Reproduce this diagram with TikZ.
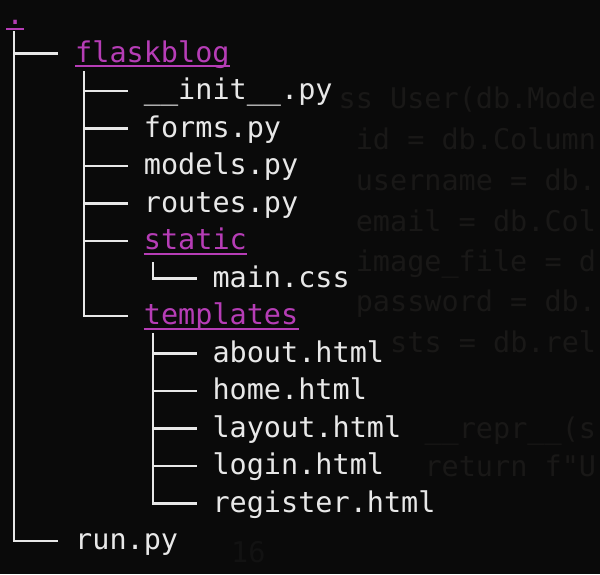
\documentclass[tikz,border=0pt]{standalone}
\usepackage{fontspec}
\newfontfamily\termfont{DejaVu Sans Mono}
\definecolor{bg}{HTML}{0A0A0A}
\definecolor{fg}{HTML}{E8E8E8}
\definecolor{dircol}{HTML}{B63DB6}
\definecolor{ghost}{HTML}{191817}
\definecolor{ghostdim}{HTML}{121212}
\tikzset{
  entry/.style={anchor=base west, inner sep=0pt, text height=20pt, text depth=3pt,
    font=\termfont\fontsize{28.5}{34}\selectfont, text=fg},
  dirent/.style={entry, text=dircol},
  ghosttext/.style={anchor=base west, inner sep=0pt,
    font=\termfont\fontsize{28.5}{34}\selectfont, text=ghost},
  branch/.style={draw=fg, line width=2.6pt},
  uline/.style={draw=dircol, line width=2pt}
}
\begin{document}
\begin{tikzpicture}[x=1pt,y=-1pt]
\fill[bg] (0,0) rectangle (600,574);
\useasboundingbox (0,0) rectangle (600,574);
\clip (0,0) rectangle (600,574);

% faint background code
\node[ghosttext] (g1) at (338.5,108) {ss User(db.Mode};
\node[ghosttext] (g2) at (355.6,149) {id = db.Column};
\node[ghosttext] (g3) at (355.6,190) {username = db.};
\node[ghosttext] (g4) at (355.6,231) {email = db.Col};
\node[ghosttext] (g5) at (355.6,271) {image\_file = d};
\node[ghosttext] (g6) at (355.6,311) {password = db.};
\node[ghosttext] (g7) at (390,352) {sts = db.rel};
\node[ghosttext] (g8) at (424.3,438) {\_\_repr\_\_(s};
\node[ghosttext] (g9) at (424.3,476) {return f"U};
\node[ghosttext, text=ghostdim] (g10) at (231,562) {16};

% tree entries
\node[dirent] (dot) at (6.4,24.5) {.};
\node[dirent] (flask) at (75,62) {flaskblog};
\node[entry] (init) at (143.7,99.5) {\_\_init\_\_.py};
\node[entry] (forms) at (143.7,137) {forms.py};
\node[entry] (models) at (143.7,174.5) {models.py};
\node[entry] (routes) at (143.7,212) {routes.py};
\node[dirent] (static) at (143.7,249.5) {static};
\node[entry] (maincss) at (212.3,287) {main.css};
\node[dirent] (templates) at (143.7,324.5) {templates};
\node[entry] (about) at (212.3,362) {about.html};
\node[entry] (home) at (212.3,399.5) {home.html};
\node[entry] (layout) at (212.3,437) {layout.html};
\node[entry] (login) at (212.3,474.5) {login.html};
\node[entry] (register) at (212.3,512) {register.html};
\node[entry] (run) at (75,549.5) {run.py};

% underlines of directories
\foreach \d in {dot,flask,static,templates}
  \draw[uline] ([yshift=-0.8pt]\d.south west) -- ([yshift=-0.8pt]\d.south east);

% trunk tops
\coordinate (t1) at (14,31);
\coordinate (t2) at (84,71);
\coordinate (t3) at (153,262);
\coordinate (t4) at (153,333);

% level 1
\draw[branch] (t1) |- ([xshift=-17pt]run.west);
\draw[branch] (t1 |- flask.west) -- ([xshift=-17pt]flask.west);

% level 2
\draw[branch] (t2) |- ([xshift=-16pt]templates.west);
\foreach \n in {init,forms,models,routes,static}
  \draw[branch] (t2 |- \n.west) -- ([xshift=-16pt]\n.west);

% static
\draw[branch] (t3) |- ([xshift=-15pt]maincss.west);

% templates
\draw[branch] (t4) |- ([xshift=-15pt]register.west);
\foreach \n in {about,home,layout,login}
  \draw[branch] (t4 |- \n.west) -- ([xshift=-15pt]\n.west);
\end{tikzpicture}
\end{document}
